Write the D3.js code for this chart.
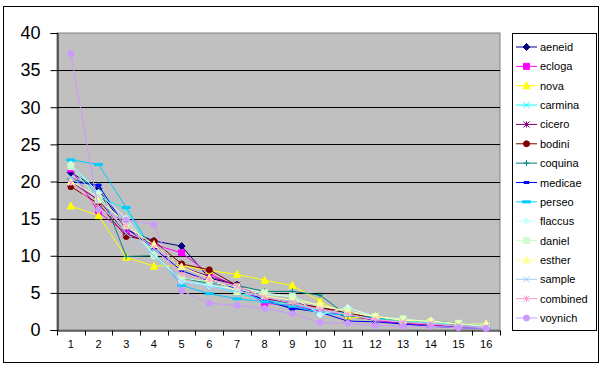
<!DOCTYPE html>
<html>
<head>
<meta charset="utf-8">
<script src="https://cdn.jsdelivr.net/npm/d3@7"></script>
<style>
  body { margin: 0; background: #fff; }
  svg { font-family: "Liberation Sans", Arial, sans-serif; }
</style>
</head>
<body>
<div id="chart"></div>
<script>
const width = 603,
  height = 372,
  margin = { top: 33, bottom: 42, left: 57, right: 103 };

const categories = d3.range(1, 17).map(String);
const yTicks = [0, 5, 10, 15, 20, 25, 30, 35, 40];

const seriesNames = ["aeneid", "ecloga", "nova", "carmina", "cicero", "bodini", "coquina",
  "medicae", "perseo", "flaccus", "daniel", "esther", "sample", "combined", "voynich"];

const aeneid   = [21.2, 19.0, 13.5, 12.0, 11.3, 7.0, 6.1, 3.9, 2.9, 2.7, 1.8, 1.4, 0.9, 0.8, 0.4, 0.2];
const ecloga   = [21.7, 15.9, 13.0, 11.5, 10.4, 7.6, 5.8, 3.6, 3.3, 2.6, 2.0, 1.3, 0.8, 0.7, 0.5, 0.3];
const nova     = [16.7, 15.4, 9.8, 8.6, 8.7, 8.0, 7.5, 6.7, 6.0, 3.9, 1.7, 1.6, 1.2, 1.1, 0.8, 0.7];
const carmina  = [22.4, 18.0, 16.3, 10.0, 6.5, 6.1, 5.0, 4.0, 3.5, 2.6, 2.3, 1.6, 1.3, 1.0, 0.8, 0.4];
const cicero   = [20.0, 17.5, 13.0, 11.5, 8.5, 7.2, 6.1, 4.2, 3.6, 3.0, 2.5, 1.4, 1.0, 0.7, 0.5, 0.3];
const bodini   = [19.3, 17.0, 12.6, 12.0, 8.9, 8.1, 6.0, 4.3, 3.7, 3.0, 2.3, 1.5, 1.0, 0.8, 0.6, 0.3];
const coquina  = [20.3, 19.5, 9.9, 10.0, 7.0, 6.3, 6.0, 5.2, 5.2, 4.7, 1.9, 1.7, 1.3, 1.2, 0.9, 0.6];
const medicae  = [20.0, 19.5, 13.7, 11.0, 8.0, 6.6, 5.6, 4.0, 2.9, 2.4, 1.2, 1.1, 0.8, 0.5, 0.3, 0.2];
const perseo   = [22.9, 22.3, 16.5, 10.5, 6.0, 4.9, 4.2, 3.8, 3.2, 2.3, 2.0, 1.5, 1.1, 0.9, 0.5, 0.3];
const flaccus  = [22.3, 18.5, 15.0, 10.2, 6.6, 6.0, 5.5, 4.8, 4.5, 2.1, 3.0, 1.8, 1.3, 1.2, 0.8, 0.5];
const daniel   = [22.0, 17.5, 14.5, 10.0, 7.0, 6.5, 5.8, 5.0, 4.5, 3.2, 2.6, 1.8, 1.5, 1.1, 0.9, 0.5];
const esther   = [20.0, 18.0, 14.0, 11.5, 8.5, 7.0, 5.2, 4.6, 4.0, 3.4, 2.4, 1.8, 1.3, 1.2, 0.8, 0.8];
const sample   = [20.5, 18.0, 13.0, 10.0, 6.5, 5.8, 5.2, 4.4, 3.8, 2.6, 2.1, 1.4, 1.1, 0.9, 0.6, 0.4];
const combined = [19.8, 16.5, 14.0, 11.0, 7.5, 6.8, 5.9, 4.4, 3.6, 2.8, 2.1, 1.4, 1.0, 0.8, 0.5, 0.3];
const voynich  = [37.2, 16.2, 14.8, 14.2, 5.3, 3.6, 3.3, 2.9, 2.2, 1.0, 0.9, 0.6, 0.5, 0.5, 0.3, 0.2];

const seriesValues = [aeneid, ecloga, nova, carmina, cicero, bodini, coquina,
  medicae, perseo, flaccus, daniel, esther, sample, combined, voynich];

const colors = ["#000080", "#FF00FF", "#FFFF00", "#00FFFF", "#800080", "#800000", "#008080",
  "#0000FF", "#00CCFF", "#CCFFFF", "#CCFFCC", "#FFFF99", "#99CCFF", "#FF99CC", "#CC99FF"];
const markers = ["diamond", "square", "triangle", "x", "star", "circle", "plus",
  "dash", "longdash", "diamond", "square", "triangle", "x", "star", "circle"];

const series = seriesNames.map((name, i) => ({
  name: name,
  color: colors[i],
  marker: markers[i],
  values: seriesValues[i].map((v, j) => ({ cat: categories[j], value: v }))
}));

const svg = d3.select("#chart")
  .append("svg")
  .attr("width", width)
  .attr("height", height);

// outer chart border
svg.append("rect")
  .attr("x", 3.5).attr("y", 6.5)
  .attr("width", 595).attr("height", 356)
  .attr("fill", "white")
  .attr("stroke", "black");

const xScale = d3.scaleBand()
  .domain(categories)
  .range([margin.left, width - margin.right]);

const yScale = d3.scaleLinear()
  .domain([0, 40])
  .range([height - margin.bottom, margin.top]);

const x = d => xScale(d) + xScale.bandwidth() / 2;

// plot area
svg.append("rect")
  .attr("x", margin.left)
  .attr("y", margin.top)
  .attr("width", width - margin.left - margin.right)
  .attr("height", height - margin.top - margin.bottom)
  .attr("fill", "#C0C0C0")
  .attr("stroke", "#808080");

// gridlines
svg.append("g")
  .selectAll("line")
  .data(yTicks.filter(d => d > 0 && d < 40))
  .join("line")
  .attr("x1", margin.left)
  .attr("x2", width - margin.right)
  .attr("y1", d => Math.round(yScale(d)) + 0.5)
  .attr("y2", d => Math.round(yScale(d)) + 0.5)
  .attr("stroke", "black");

// y axis
const yAxis = d3.axisLeft(yScale).tickValues(yTicks).tickSize(7).tickPadding(10);
const gy = svg.append("g")
  .attr("transform", `translate(${margin.left + 0.5},0)`)
  .call(yAxis);
gy.select(".domain").attr("stroke", "black");
gy.selectAll("text").style("font-size", "18px").attr("fill", "black");

// x axis (labels centred, ticks between categories like Excel)
const xAxis = d3.axisBottom(xScale).tickSize(0).tickPadding(10);
const gx = svg.append("g")
  .attr("transform", `translate(0,${height - margin.bottom + 0.5})`)
  .call(xAxis);
gx.select(".domain").attr("stroke", "black");
gx.selectAll("text").style("font-size", "11px").attr("fill", "black");
gx.selectAll(".between")
  .data(categories.concat(["end"]))
  .join("line")
  .attr("class", "between")
  .attr("x1", (d, i) => Math.round(margin.left + i * xScale.step()) + 0.5)
  .attr("x2", (d, i) => Math.round(margin.left + i * xScale.step()) + 0.5)
  .attr("y1", 0)
  .attr("y2", 5)
  .attr("stroke", "black");

function markerPath(type, cx, cy) {
  const p = d3.path();
  const s = 3;
  if (type === "diamond") {
    p.moveTo(cx, cy - s - 0.5); p.lineTo(cx + s + 0.5, cy); p.lineTo(cx, cy + s + 0.5); p.lineTo(cx - s - 0.5, cy); p.closePath();
  } else if (type === "square") {
    p.rect(cx - s, cy - s, 2 * s, 2 * s);
  } else if (type === "triangle") {
    p.moveTo(cx, cy - s - 1); p.lineTo(cx + s + 0.5, cy + s); p.lineTo(cx - s - 0.5, cy + s); p.closePath();
  } else if (type === "circle") {
    p.arc(cx, cy, s, 0, 2 * Math.PI);
  } else if (type === "x") {
    p.moveTo(cx - s, cy - s); p.lineTo(cx + s, cy + s); p.moveTo(cx + s, cy - s); p.lineTo(cx - s, cy + s);
  } else if (type === "star") {
    p.moveTo(cx - s, cy - s); p.lineTo(cx + s, cy + s); p.moveTo(cx + s, cy - s); p.lineTo(cx - s, cy + s);
    p.moveTo(cx, cy - s); p.lineTo(cx, cy + s);
  } else if (type === "plus") {
    p.moveTo(cx - s, cy); p.lineTo(cx + s, cy); p.moveTo(cx, cy - s); p.lineTo(cx, cy + s);
  } else if (type === "dash") {
    p.rect(cx - 2.5, cy - 1, 5, 2);
  } else if (type === "longdash") {
    p.rect(cx - 4, cy - 1, 8, 2);
  }
  return p.toString();
}
const filled = t => ["diamond", "square", "triangle", "circle", "dash", "longdash"].includes(t);

const line = d3.line()
  .x(d => x(d.cat))
  .y(d => yScale(d.value));

const gSeries = svg.append("g")
  .selectAll("g")
  .data(series)
  .join("g");

gSeries.append("path")
  .attr("d", d => line(d.values))
  .attr("fill", "none")
  .attr("stroke", d => d.color)
  .attr("stroke-width", 1);

gSeries.each(function(s) {
  d3.select(this).selectAll(".pt")
    .data(s.values)
    .join("path")
    .attr("class", "pt")
    .attr("d", d => markerPath(s.marker, x(d.cat), yScale(d.value)))
    .attr("fill", filled(s.marker) ? s.color : "none")
    .attr("stroke", s.color)
    .attr("stroke-width", 1);
});

// legend
const legend = svg.append("g");
legend.append("rect")
  .attr("x", 512.5).attr("y", 33.5)
  .attr("width", 84).attr("height", 297)
  .attr("fill", "white")
  .attr("stroke", "black");

const ly = d3.scalePoint()
  .domain(seriesNames)
  .range([47, 318]);

const item = legend.selectAll(".item")
  .data(series)
  .join("g")
  .attr("class", "item")
  .attr("transform", d => `translate(0,${ly(d.name)})`);

item.append("line")
  .attr("x1", 516).attr("x2", 537)
  .attr("stroke", d => d.color);
item.append("path")
  .attr("d", d => markerPath(d.marker, 526.5, 0))
  .attr("fill", d => filled(d.marker) ? d.color : "none")
  .attr("stroke", d => d.color);
item.append("text")
  .attr("x", 540)
  .attr("y", 4)
  .style("font-size", "11px")
  .text(d => d.name);
</script>
</body>
</html>
